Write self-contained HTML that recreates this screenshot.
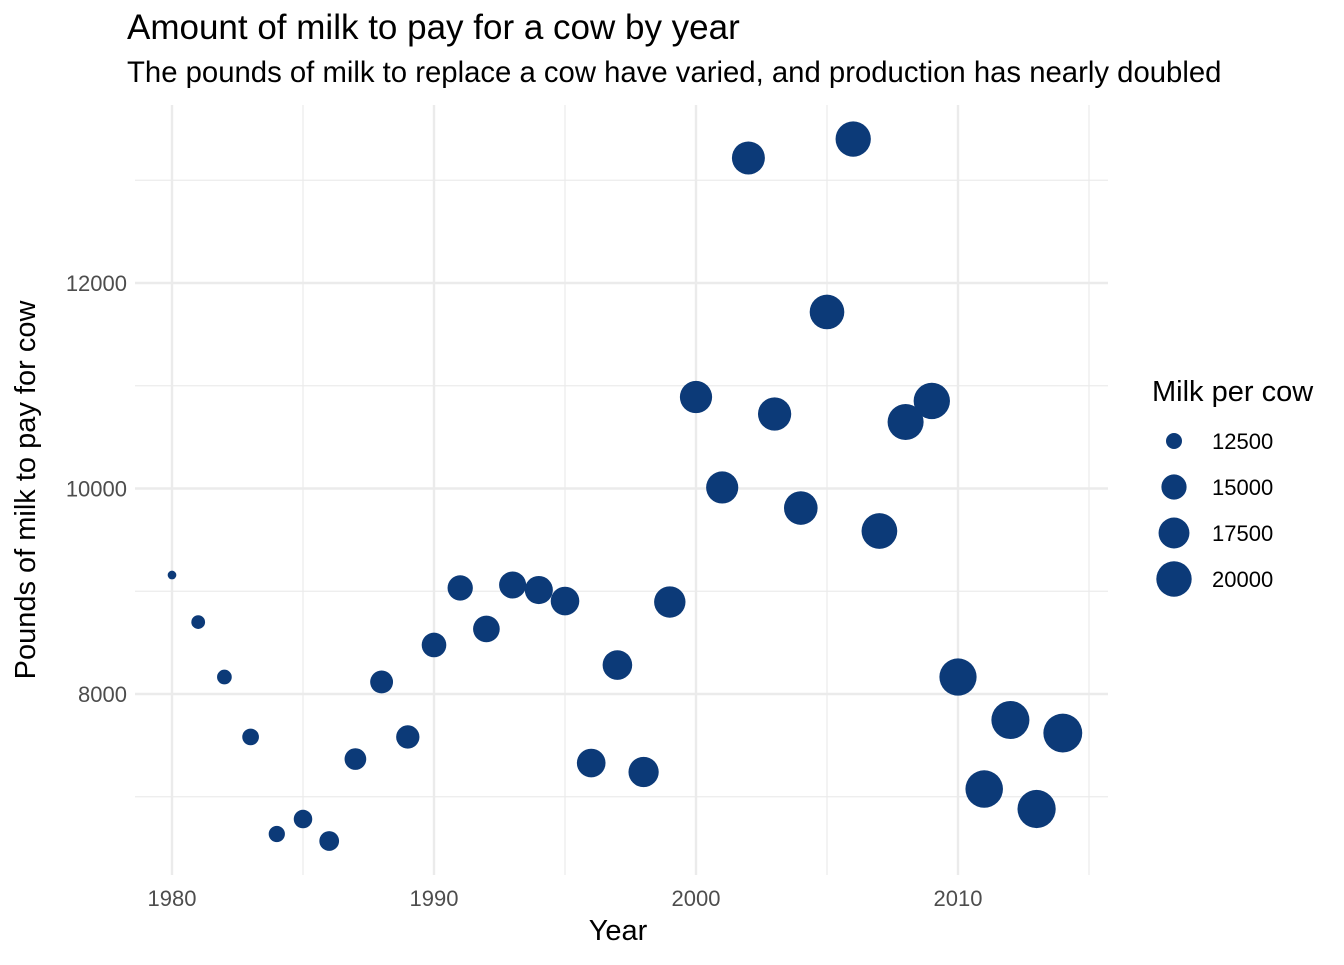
<!DOCTYPE html>
<html><head><meta charset="utf-8"><style>
body{margin:0;background:#fff;font-family:"Liberation Sans",Arial,sans-serif}
svg text{font-family:"Liberation Sans",Arial,sans-serif}
</style></head><body>
<svg id="chart" width="1344" height="960" viewBox="0 0 1344 960" xmlns="http://www.w3.org/2000/svg">
<rect width="1344" height="960" fill="#fff"/>
<text x="127" y="39" font-size="35" fill="#000">Amount of milk to pay for a cow by year</text>
<text x="127" y="82" font-size="29.3" fill="#000">The pounds of milk to replace a cow have varied, and production has nearly doubled</text>
<g id="grid"></g>
<g id="points"></g>
<g id="axes"></g>
<text x="618" y="940" font-size="29" text-anchor="middle">Year</text>
<text transform="translate(35,490) rotate(-90)" font-size="29" text-anchor="middle">Pounds of milk to pay for cow</text>
<g id="legend">
<text x="1152" y="401" font-size="29">Milk per cow</text>
</g>
</svg>
<script>
const years=[1980,1981,1982,1983,1984,1985,1986,1987,1988,1989,1990,1991,1992,1993,1994,1995,1996,1997,1998,1999,2000,2001,2002,2003,2004,2005,2006,2007,2008,2009,2010,2011,2012,2013,2014];
const poundsToPay=[9158,8700,8165,7582,6637,6783,6569,7367,8117,7582,8477,9032,8633,9061,9012,8905,7328,8282,7241,8895,10890,10010,13217,10725,9810,11718,13401,9586,10647,10852,8165,7075,7747,6881,7620];
const milkPerCow=[11891,12183,12306,12622,12541,12994,13285,13819,14185,14323,14782,15031,15570,15722,16179,16405,16433,16871,17185,17763,18197,18162,18608,18760,18967,19550,19951,20204,20395,20576,21149,21345,21697,21822,22259];
const xTicks=[1980,1990,2000,2010];
const xMinor=[1985,1995,2005,2015];
const yTicks=[8000,10000,12000];
const yMinor=[7000,9000,11000,13000];
const legendValues=[12500,15000,17500,20000];
const NS="http://www.w3.org/2000/svg";
const X=v=>172+(v-1980)*26.2;
const Y=v=>694-(v-8000)*0.10275;
const mMin=Math.min(...milkPerCow),mMax=Math.max(...milkPerCow);
const R=m=>4.34+15.1*Math.sqrt(Math.max(0,Math.min(1,(m-mMin)/(mMax-mMin))));
const L=135,Rr=1108,T=105,B=875,COL="#0c3a78";
function mk(t,a,p){const e=document.createElementNS(NS,t);for(const k in a)e.setAttribute(k,a[k]);p.appendChild(e);return e;}
const g=document.getElementById('grid');
yMinor.forEach(v=>{const e=mk('line',{x1:L,x2:Rr,y1:Y(v),y2:Y(v),stroke:'#ebebeb','stroke-width':1.2},g);

});
xMinor.forEach(v=>{const e=mk('line',{x1:X(v),x2:X(v),y1:T,y2:B,stroke:'#ebebeb','stroke-width':1.2},g);

});
yTicks.forEach(v=>{const e=mk('line',{x1:L,x2:Rr,y1:Y(v),y2:Y(v),stroke:'#ebebeb','stroke-width':2.4},g);

});
xTicks.forEach(v=>{const e=mk('line',{x1:X(v),x2:X(v),y1:T,y2:B,stroke:'#ebebeb','stroke-width':2.4},g);

});
const ax=document.getElementById('axes');
xTicks.forEach(v=>{const t=mk('text',{x:X(v),y:906,'font-size':22,fill:'#4d4d4d','text-anchor':'middle'},ax);t.textContent=v;

});
yTicks.forEach(v=>{const t=mk('text',{x:127,y:Y(v)+8,'font-size':22,fill:'#4d4d4d','text-anchor':'end'},ax);t.textContent=v;

});
const pg=document.getElementById('points');
years.forEach((yr,i)=>{const c=mk('circle',{cx:X(yr),cy:Y(poundsToPay[i]),r:R(milkPerCow[i]),fill:COL},pg);

});
const lg=document.getElementById('legend');
legendValues.forEach((v,i)=>{const cy=441+i*46;
const c=mk('circle',{cx:1174,cy:cy,r:R(v),fill:COL},lg);


const t=mk('text',{x:1212,y:cy+8,'font-size':22,fill:'#000'},lg);t.textContent=v;

});
</script>
</body></html>
